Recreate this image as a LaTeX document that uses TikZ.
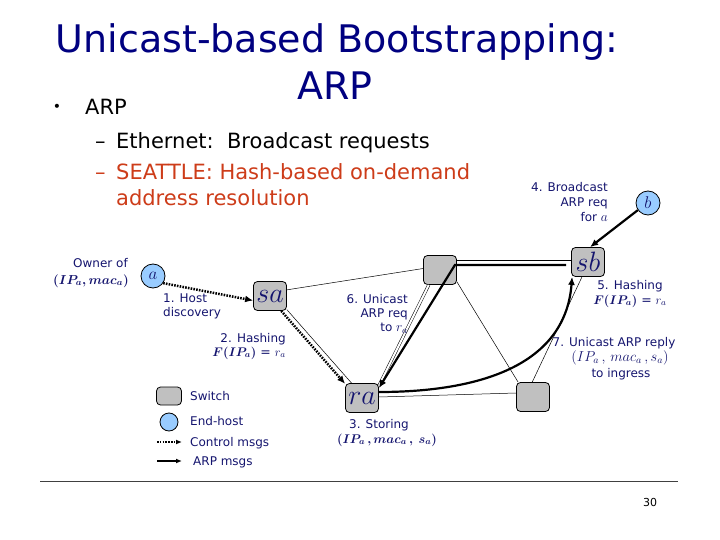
\RequirePackage{fix-cm}
\documentclass[tikz,border=0pt]{standalone}
\usepackage{fontspec}
\setmainfont{DejaVu Sans}
\usepackage{bm}
\usetikzlibrary{arrows.meta}
\definecolor{navy}{RGB}{0,0,128}
\definecolor{lbl}{RGB}{20,20,110}
\definecolor{seattle}{RGB}{205,60,25}
\definecolor{swfill}{RGB}{192,192,192}
\definecolor{hostfill}{RGB}{153,204,255}
\tikzset{
 switch/.style={draw=black, line width=0.8pt, fill=swfill, rounded corners=4pt, minimum width=33pt, minimum height=29pt, inner sep=0pt, text=lbl, font=\fontsize{28}{28}\selectfont},
 host/.style={circle, draw=black, line width=0.8pt, fill=hostfill, minimum size=24pt, inner sep=0pt, text=lbl, font=\fontsize{17}{17}\selectfont},
 link/.style={line width=0.5pt},
 arp/.style={line width=2.2pt, -{Latex[length=8pt,width=7pt]}},
 ctrl/.style={line width=2.5pt, dash pattern=on 1.6pt off 1.2pt, -{Latex[length=8pt,width=7pt]}},
 lab/.style={text=lbl, font=\fontsize{12}{14}\selectfont, inner sep=0pt},
 big/.style={inner sep=0pt, font=\fontsize{21}{21}\selectfont},
}
\begin{document}
\begin{tikzpicture}[x=1pt,y=-1pt]
\useasboundingbox (0,0) rectangle (720,540);
% title
\node[navy, inner sep=0pt, font=\fontsize{38}{38}\selectfont, anchor=base] (title1) at (337,53) {Unicast-based Bootstrapping:};
\node[navy, inner sep=0pt, font=\fontsize{38}{38}\selectfont, anchor=base] (title2) at (335,100) {ARP};
% bullets
\node[inner sep=0pt, font=\fontsize{14}{14}\selectfont] (bul) at (57,108) {•};
\node[big, anchor=base west] (b1) at (85,115) {ARP};
\node[big, anchor=base west] (d1) at (95,149) {–};
\node[big, anchor=base west] (e1) at (116,149) {Ethernet:\ \ Broadcast requests};
\node[big, anchor=base west, text=seattle] (d2) at (95,180) {–};
\node[big, anchor=base west, text=seattle] (s1) at (116,180) {SEATTLE: Hash-based on-demand};
\node[big, anchor=base west, text=seattle] (s2) at (116,206) {address resolution};
% nodes
\node[host] (a) at (153,276) {$a$};
\node[host] (b) at (648,203) {$b$};
\node[switch] (sa) at (270,296) {$sa$};
\node[switch] (ra) at (362,398) {$ra$};
\node[switch] (tm) at (440,270) {};
\node[switch] (sb) at (588,262) {$sb$};
\node[switch] (br) at (533,397) {};
% links
\draw[link] (sa.20) -- (tm.175);
\draw[link] (sa.-39) -- (ra.125);
\draw[link] ([yshift=9.5pt]tm.east) -- ([yshift=1.5pt]sb.west);
\draw[link, double, double distance=2pt] (tm.233) -- (ra.36);
\draw[link] (tm.-35) -- (br.135);
\draw[link] (sb.248) -- (br.93);
\draw[link] ([yshift=1pt]ra.east) -- ([yshift=4pt]br.west);
% control msgs
\draw[ctrl] (a.-35) -- (sa.195);
\draw[ctrl] (sa.-53) -- (ra.140);
% arp msgs
\draw[arp] (b.215) -- (sb.82);
\draw[arp, line join=miter] ([xshift=-5pt,yshift=-3pt]sb.west) -- ([xshift=-2pt,yshift=5pt]tm.east) -- ([yshift=10pt]ra.east);
\draw[arp] ([yshift=6pt]ra.east) .. controls (470,392) and (565,370) .. ([xshift=1pt]sb.south west);
% labels
\node[lab, anchor=base east] (own1) at (128,267) {Owner of};
\node[lab, anchor=base east, font=\fontsize{13}{14}\selectfont] (own2) at (129,284) {$\bm{(IP_a,mac_a)}$};
\node[lab, anchor=base west] (host1) at (163,302) {1. Host};
\node[lab, anchor=base west] (host2) at (163,316) {discovery};
\node[lab, anchor=base east] (hash1) at (286,342) {2. Hashing};
\node[lab, anchor=base east] (hash2) at (286,356) {\fontsize{12.5}{14}\selectfont$\bm{F(IP_a)}$ = $r_a$};
\node[lab, anchor=base east] (uni1) at (408,303) {6. Unicast};
\node[lab, anchor=base east] (uni2) at (408,317) {ARP req};
\node[lab, anchor=base east] (uni3) at (408,331) {to \fontsize{13.5}{14}\selectfont$r_a$};
\node[lab, anchor=base east] (bc1) at (608,192) {4. Broadcast};
\node[lab, anchor=base east] (bc2) at (608,207) {ARP req};
\node[lab, anchor=base east] (bc3) at (608,222) {for \fontsize{13.5}{14}\selectfont$a$};
\node[lab, anchor=base] (h5a) at (630,289) {5. Hashing};
\node[lab, anchor=base] (h5b) at (630,304) {\fontsize{12.5}{14}\selectfont$\bm{F(IP_a)}$ = $r_a$};
\node[lab, anchor=base] (r7a) at (614,346) {7. Unicast ARP reply};
\node[lab, anchor=base, font=\fontsize{14.4}{15}\selectfont] (r7b) at (620,361) {$(IP_a\,,\,mac_a\,,s_a)$};
\node[lab, anchor=base] (r7c) at (621,377) {to ingress};
\node[lab, anchor=base] (st1) at (379,428) {3. Storing};
\node[lab, anchor=base, font=\fontsize{12.6}{14}\selectfont] (st2) at (387,443) {$\bm{(IP_a\,,mac_a\,,\;s_a)}$};
% legend
\node[switch, minimum width=25pt, minimum height=18pt] (lsw) at (169,396) {};
\node[host, minimum size=18pt] (lhost) at (169,422) {};
\coordinate (lc1) at (157,442);
\coordinate (lc2) at (182,442);
\coordinate (la1) at (157,461);
\coordinate (la2) at (182,461);
\draw[ctrl, line width=2pt, -{Latex[length=6pt,width=5pt]}] (lc1) -- (lc2);
\draw[arp, line width=1.5pt, -{Latex[length=6pt,width=5pt]}] (la1) -- (la2);
\node[lab, anchor=base west] (tsw) at (190,400) {Switch};
\node[lab, anchor=base west] (thost) at (190,425) {End-host};
\node[lab, anchor=base west] (tctrl) at (190,446) {Control msgs};
\node[lab, anchor=base west] (tarp) at (193,465) {ARP msgs};
% footer
\coordinate (hl1) at (40,481);
\coordinate (hl2) at (678,481);
\draw[black!75, line width=0.8pt] (hl1) -- (hl2);
\node[inner sep=0pt, anchor=base, font=\fontsize{11}{11}\selectfont] (pg) at (650,506) {30};
\end{tikzpicture}
\end{document}
